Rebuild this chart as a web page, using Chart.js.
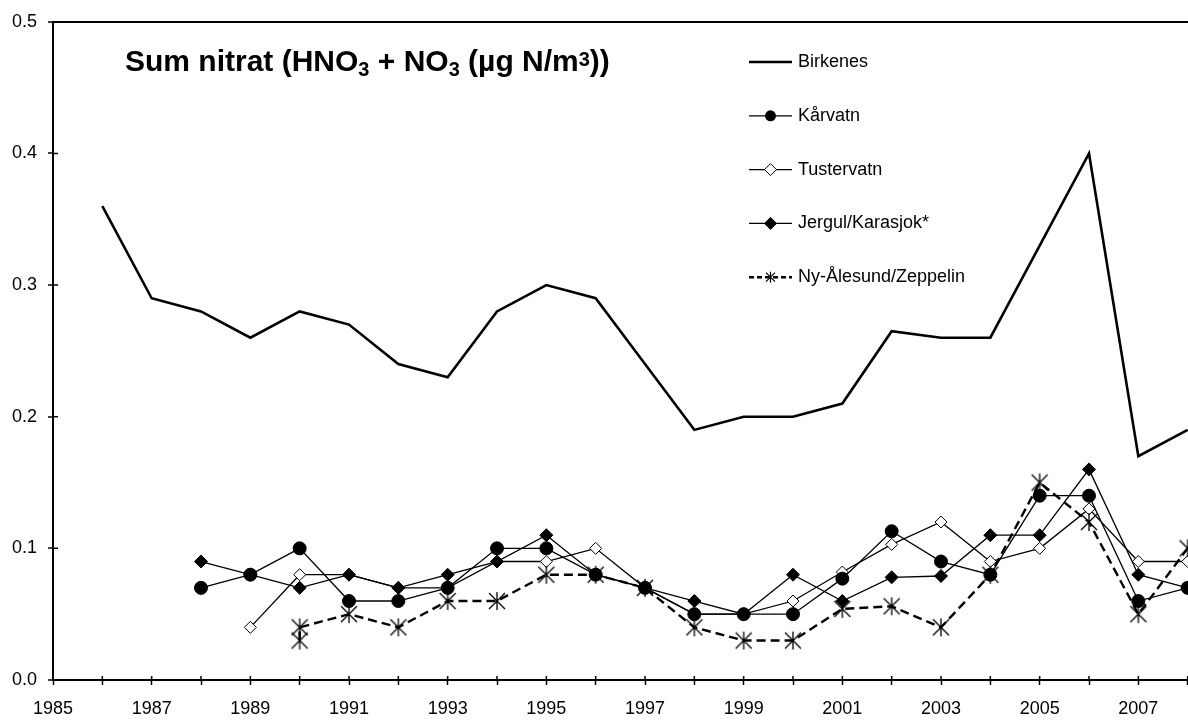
<!DOCTYPE html>
<html>
<head>
<meta charset="utf-8">
<title>Sum nitrat</title>
<script src="https://cdn.jsdelivr.net/npm/chart.js@4.4.0/dist/chart.umd.min.js"></script>
<style>
    html, body { margin: 0; padding: 0; background: #fff; overflow: hidden; }
    canvas { display: block; }
</style>
</head>
<body>
<canvas id="nitratChart" width="1250" height="720"></canvas>
<script>
// annual means, µg N/m3
const years = [1986, 1987, 1988, 1989, 1990, 1991, 1992, 1993, 1994, 1995, 1996, 1997,
               1998, 1999, 2000, 2001, 2002, 2003, 2004, 2005, 2006, 2007, 2008];
const birkenes   = [0.36, 0.29, 0.28, 0.26, 0.28, 0.27, 0.24, 0.23, 0.28, 0.30, 0.29, 0.24,
                    0.19, 0.20, 0.20, 0.21, 0.265, 0.26, 0.26, 0.33, 0.40, 0.17, 0.19];
const kaarvatn   = [null, null, 0.07, 0.08, 0.10, 0.06, 0.06, 0.07, 0.10, 0.10, 0.08, 0.07,
                    0.05, 0.05, 0.05, 0.077, 0.113, 0.09, 0.08, 0.14, 0.14, 0.06, 0.07];
const tustervatn = [null, null, null, 0.04, 0.08, 0.08, 0.07, 0.07, 0.09, 0.09, 0.10, 0.07,
                    0.05, 0.05, 0.06, 0.082, 0.103, 0.12, 0.09, 0.10, 0.13, 0.09, 0.09];
const jergul     = [null, null, 0.09, 0.08, 0.07, 0.08, 0.07, 0.08, 0.09, 0.11, 0.08, 0.07,
                    0.06, 0.05, 0.08, 0.06, 0.078, 0.079, 0.11, 0.11, 0.16, 0.08, 0.07];
// two readings for 1990
const nyAlesundYears = [1990, 1990, 1991, 1992, 1993, 1994, 1995, 1996, 1997, 1998, 1999,
                        2000, 2001, 2002, 2003, 2004, 2005, 2006, 2007, 2008];
const nyAlesund      = [0.03, 0.04, 0.05, 0.04, 0.06, 0.06, 0.08, 0.08, 0.07, 0.04, 0.03,
                        0.03, 0.054, 0.056, 0.04, 0.08, 0.15, 0.12, 0.05, 0.10];

const labelledYears = [1985, 1987, 1989, 1991, 1993, 1995, 1997, 1999, 2001, 2003, 2005, 2007];
const yTicks = [0, 0.1, 0.2, 0.3, 0.4, 0.5];

const FONT = '"Liberation Sans", Arial, sans-serif';
Chart.defaults.font.family = FONT;
Chart.defaults.color = '#000';

function toPoints(xs, ys) {
    return xs.map((x, i) => ({ x: x, y: ys[i] }));
}

// asterisk: an X with a vertical bar through it
function starPath(ctx, cx, cy, r) {
    ctx.beginPath();
    ctx.moveTo(cx - r, cy - r); ctx.lineTo(cx + r, cy + r);
    ctx.moveTo(cx + r, cy - r); ctx.lineTo(cx - r, cy + r);
    ctx.moveTo(cx, cy - r - 1); ctx.lineTo(cx, cy + r + 1);
    ctx.stroke();
}

function makeStar(size, r) {
    let c = document.createElement('canvas');
    c.width = size; c.height = size;
    let g = c.getContext('2d');
    g.strokeStyle = '#000';
    g.lineWidth = 1.3;
    starPath(g, size / 2, size / 2, r);
    return c;
}

function drawMarker(ctx, kind, x, y) {
    ctx.strokeStyle = '#000';
    ctx.fillStyle = '#000';
    ctx.lineWidth = 1;
    if (kind == 'circle') {
        ctx.beginPath();
        ctx.arc(x, y, 5.5, 0, Math.PI * 2);
        ctx.fill();
    }
    if (kind == 'diamond' || kind == 'diamondOpen') {
        let r = 6;
        ctx.beginPath();
        ctx.moveTo(x, y - r); ctx.lineTo(x + r, y); ctx.lineTo(x, y + r); ctx.lineTo(x - r, y);
        ctx.closePath();
        if (kind == 'diamondOpen') ctx.fillStyle = '#fff';
        ctx.fill();
        ctx.stroke();
    }
    if (kind == 'star') {
        ctx.lineWidth = 1.2;
        starPath(ctx, x, y, 4.5);
    }
}

// Excel-like legend: line sample with marker, then the label
const stationLegend = {
    id: 'stationLegend',
    afterDraw(chart) {
        const ctx = chart.ctx;
        ctx.save();
        chart.data.datasets.forEach((ds, i) => {
            let y = 62 + i * 53.8;
            let x0 = 749, x1 = 792;
            ctx.strokeStyle = '#000';
            ctx.lineWidth = ds.borderWidth;
            ctx.setLineDash(ds.legendDash || []);
            ctx.beginPath();
            ctx.moveTo(x0, y);
            ctx.lineTo(x1, y);
            ctx.stroke();
            ctx.setLineDash([]);
            drawMarker(ctx, ds.legendMarker, (x0 + x1) / 2, y);
            ctx.fillStyle = '#000';
            ctx.font = '18px ' + FONT;
            ctx.textBaseline = 'alphabetic';
            ctx.textAlign = 'left';
            ctx.fillText(ds.label, 798, y + 5);
        });
        ctx.restore();
    }
};

// title with sub/superscripts
const titleParts = [['Sum nitrat (HNO', 0], ['3', 1], [' + NO', 0], ['3', 1],
                    [' (\u00b5g N/m', 0], ['3', -1], ['))', 0]];
const chartTitle = {
    id: 'chartTitle',
    afterDraw(chart) {
        const ctx = chart.ctx;
        ctx.save();
        ctx.fillStyle = '#000';
        ctx.textBaseline = 'alphabetic';
        ctx.textAlign = 'left';
        let x = 125, base = 71;
        titleParts.forEach(p => {
            ctx.font = (p[1] == 0 ? 'bold 30px ' : 'bold 20px ') + FONT;
            let dy = p[1] == 1 ? 4.5 : (p[1] == -1 ? -5 : 0);
            ctx.fillText(p[0], x, base + dy);
            x += ctx.measureText(p[0]).width;
        });
        ctx.restore();
    }
};

// tick marks cross the axes: add the inner half
const innerTicks = {
    id: 'innerTicks',
    afterDraw(chart) {
        const { ctx, chartArea, scales } = chart;
        ctx.save();
        ctx.strokeStyle = '#000';
        ctx.lineWidth = 1.5;
        ctx.beginPath();
        scales.x.ticks.forEach(t => {
            let px = scales.x.getPixelForValue(t.value);
            ctx.moveTo(px, chartArea.bottom);
            ctx.lineTo(px, chartArea.bottom - 4);
        });
        scales.y.ticks.forEach(t => {
            let py = scales.y.getPixelForValue(t.value);
            ctx.moveTo(chartArea.left, py);
            ctx.lineTo(chartArea.left + 5, py);
        });
        ctx.stroke();
        ctx.restore();
    }
};

const starPoint = makeStar(20, 8);

const ctx = document.getElementById('nitratChart').getContext('2d');
const nitratChart = new Chart(ctx, {
    type: 'line',
    data: {
        datasets: [{
            label: 'Birkenes',
            data: toPoints(years, birkenes),
            borderColor: '#000',
            borderWidth: 2.6,
            pointRadius: 0,
            order: 4,
            legendMarker: null
        }, {
            label: 'K\u00e5rvatn',
            data: toPoints(years, kaarvatn),
            borderColor: '#000',
            borderWidth: 1.3,
            pointStyle: 'circle',
            pointRadius: 6.5,
            pointBackgroundColor: '#000',
            pointBorderColor: '#000',
            pointBorderWidth: 1,
            order: 2,
            legendMarker: 'circle'
        }, {
            label: 'Tustervatn',
            data: toPoints(years, tustervatn),
            borderColor: '#000',
            borderWidth: 1.3,
            pointStyle: 'rectRot',
            pointRadius: 6,
            pointBackgroundColor: '#fff',
            pointBorderColor: '#000',
            pointBorderWidth: 1,
            order: 3,
            legendMarker: 'diamondOpen'
        }, {
            label: 'Jergul/Karasjok*',
            data: toPoints(years, jergul),
            borderColor: '#000',
            borderWidth: 1.3,
            pointStyle: 'rectRot',
            pointRadius: 6.5,
            pointBackgroundColor: '#000',
            pointBorderColor: '#000',
            pointBorderWidth: 1,
            order: 1,
            legendMarker: 'diamond'
        }, {
            label: 'Ny-\u00c5lesund/Zeppelin',
            data: toPoints(nyAlesundYears, nyAlesund),
            borderColor: '#000',
            borderWidth: 2.4,
            borderDash: [9, 5],
            pointStyle: starPoint,
            pointRadius: 9,
            order: 0,
            legendMarker: 'star',
            legendDash: [5, 3]
        }]
    },
    options: {
        responsive: false,
        animation: false,
        events: [],
        layout: { padding: { top: 20, right: 3, left: 0, bottom: 0 } },
        elements: { line: { tension: 0 } },
        plugins: {
            legend: { display: false },
            tooltip: { enabled: false }
        },
        scales: {
            x: {
                type: 'linear',
                min: 1985,
                max: 2009,
                afterFit: scale => { scale.height = 40; },
                ticks: {
                    stepSize: 1,
                    autoSkip: false,
                    maxRotation: 0,
                    padding: 13,
                    font: { size: 18 },
                    color: '#000',
                    callback: v => labelledYears.includes(v) ? String(v) : ''
                },
                grid: {
                    drawOnChartArea: false,
                    drawTicks: true,
                    tickLength: 5,
                    tickColor: '#000',
                    tickWidth: 1.5
                },
                border: { color: '#000', width: 2 }
            },
            y: {
                min: 0,
                max: 0.5,
                afterFit: scale => { scale.width = 53; },
                afterBuildTicks: scale => { scale.ticks = yTicks.map(v => ({ value: v })); },
                ticks: {
                    padding: 11,
                    font: { size: 18 },
                    color: '#000',
                    callback: v => v.toFixed(1)
                },
                grid: {
                    color: c => (c.tick && Math.abs(c.tick.value - 0.5) < 1e-9) ? '#000' : 'rgba(0,0,0,0)',
                    lineWidth: 2,
                    drawTicks: true,
                    tickLength: 5,
                    tickColor: '#000',
                    tickWidth: 1.5
                },
                border: { color: '#000', width: 2 }
            }
        }
    },
    plugins: [innerTicks, chartTitle, stationLegend]
});
</script>
</body>
</html>
